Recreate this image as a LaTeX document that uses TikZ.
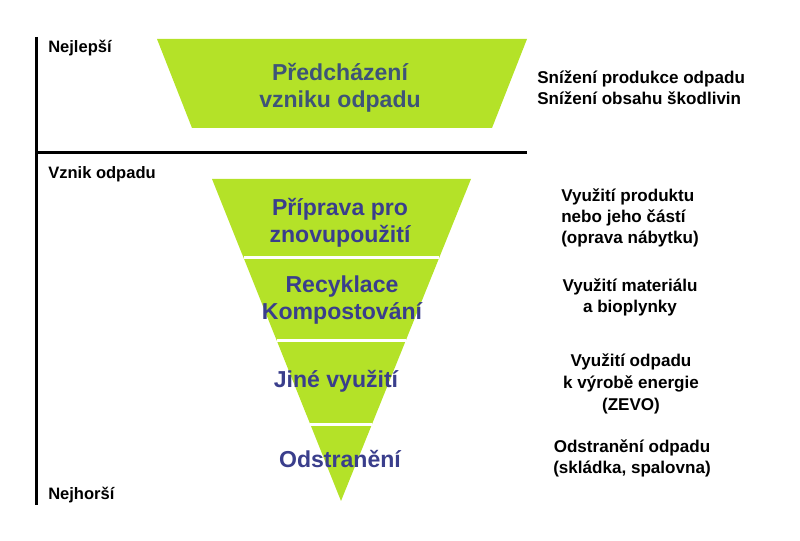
\documentclass[tikz,border=0pt]{standalone}
\usepackage{fontspec}
\setmainfont{Liberation Sans}
\usetikzlibrary{calc}
\definecolor{leafgreen}{RGB}{180,226,40}
\definecolor{slateblue}{RGB}{62,84,120}
\definecolor{inkblue}{RGB}{58,62,140}

\begin{document}
\begin{tikzpicture}[x=0.75pt, y=-0.75pt,
                level/.style={font=\bfseries\fontsize{17.3}{20.5}\selectfont, text=inkblue, align=center},
                note/.style={font=\bfseries\fontsize{12.8}{15.8}\selectfont, align=center},
                side/.style={font=\bfseries\fontsize{12.4}{15}\selectfont, anchor=west, inner sep=0pt},
                axis/.style={line width=2.25pt},
                gap/.style={white, line width=2.25pt}
            ]
            \useasboundingbox (0,0) rectangle (800,541);

            % axis
            \coordinate (axtop) at (36,37);
            \coordinate (axbot) at (36,505);
            \coordinate (cutend) at (527,153);
            \draw[axis] (axtop) -- (axbot);
            \draw[axis] (axtop |- cutend) -- (cutend);

            % prevention
            \coordinate (ptl) at (157,39);
            \coordinate (ptr) at (527,39);
            \coordinate (pbr) at (492,128);
            \coordinate (pbl) at (192,128);
            \fill[leafgreen] (ptl) -- (ptr) -- (pbr) -- (pbl) -- cycle;

            % funnel
            \coordinate (ftl) at (212,179);
            \coordinate (ftr) at (471,179);
            \coordinate (apex) at (341,501);
            \fill[leafgreen] (ftl) -- (ftr) -- (apex) -- cycle;
            \foreach \t in {0.245,0.503,0.761}
                \draw[gap] ($(ftl)!\t!(apex)$) -- ($(ftr)!\t!(apex)$);

            \node[level, text=slateblue] (prevent) at (340,88) {Předcházení\\vzniku odpadu};
            \node[level] (reuse) at (340,223) {Příprava pro\\znovupoužití};
            \node[level] (recycle) at (342,300) {Recyklace\\Kompostování};
            \node[level] (recover) at (336,381) {Jiné využití};
            \node[level] (dispose) at (340,459) {Odstranění};

            \node[note, align=left, anchor=west, inner sep=0pt] (lesswaste) at (537,88) {Snížení produkce odpadu\\Snížení obsahu škodlivin};
            \node[note, align=left, anchor=west, inner sep=0pt] (reusenote) at (561,218) {Využití produktu\\nebo jeho částí\\(oprava nábytku)};
            \node[note] (recyclenote) at (630,297) {Využití materiálu\\a bioplynky};
            \node[note, font=\bfseries\fontsize{12.8}{16.5}\selectfont] (recovernote) at (631,384) {Využití odpadu\\k výrobě energie\\(ZEVO)};
            \node[note] (disposenote) at (632,458) {Odstranění odpadu\\(skládka, spalovna)};

            \node[side] (best) at (48,48) {Nejlepší};
            \node[side] (origin) at (48,174) {Vznik odpadu};
            \node[side] (worst) at (48,495) {Nejhorší};

        \end{tikzpicture}
\end{document}
